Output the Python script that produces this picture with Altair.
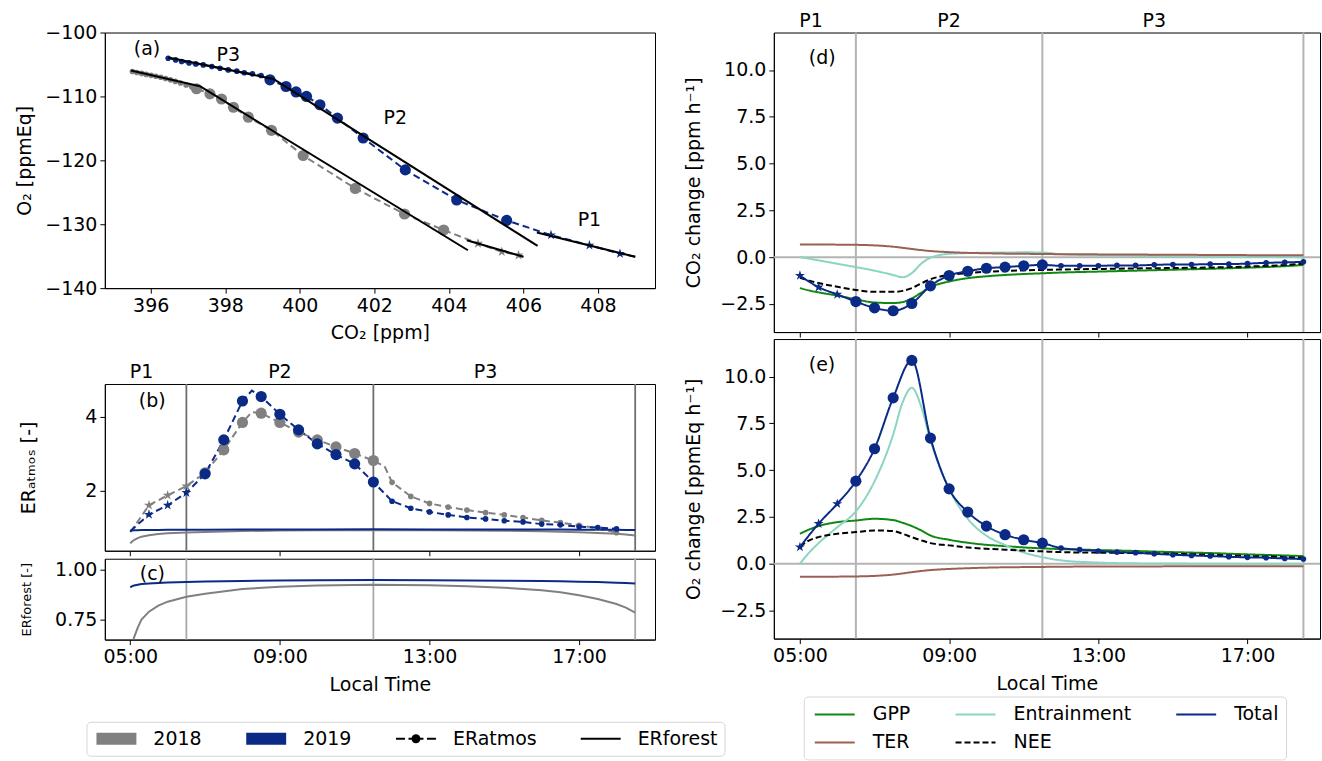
import altair as alt
import pandas as pd

GREY = "#808080"
NAVY = "#0b2a86"
GREEN = "#118811"
TEAL = "#8ad5c1"
BROWN = "#9c5f55"
FONT = "DejaVu Sans"
FS = 19

# ---------------- data ----------------
# half-hourly observation times (h) of the ERatmos markers in (a) and (b)
t_obs = [5.5, 6.0, 6.5, 7.0, 7.5, 8.0, 8.5, 9.0, 9.5, 10.0, 10.5, 11.0, 11.5,
         12.0, 12.5, 13.0, 13.5, 14.0, 14.5, 15.0, 15.5, 16.0, 16.5, 17.0, 17.5, 18.0]
marker_obs = ["star"] * 3 + ["big"] * 10 + ["small"] * 13

co2_2018 = [405.87, 405.42, 404.78, 403.86, 402.81, 401.49, 400.09, 399.24, 398.62, 398.22, 397.90, 397.59, 397.23,
            397.10, 396.95, 396.80, 396.66, 396.53, 396.40, 396.27, 396.14, 396.01, 395.88, 395.76, 395.63, 395.51]
o2_2018 = [-134.85, -134.3, -133.0, -130.9, -128.4, -124.4, -119.25, -115.3, -113.25, -111.7, -110.4, -109.6, -108.8,
           -108.5, -108.2, -107.9, -107.65, -107.4, -107.2, -107.0, -106.85, -106.7, -106.55, -106.4, -106.25, -106.1]
co2_2019 = [408.59, 407.77, 406.74, 405.55, 404.21, 402.83, 401.70, 401.01, 400.54, 400.18, 399.90, 399.63, 399.20,
            398.96, 398.73, 398.51, 398.31, 398.08, 397.86, 397.64, 397.41, 397.21, 397.03, 396.83, 396.67, 396.47]
o2_2019 = [-134.6, -133.3, -131.7, -129.4, -126.2, -121.5, -116.5, -113.4, -111.3, -110.0, -109.3, -108.45, -107.4,
           -106.73, -106.47, -106.3, -106.05, -105.85, -105.59, -105.32, -105.07, -104.91, -104.76, -104.54, -104.28, -104.02]
start_co2 = [406.0, 409.0]      # 05:00 start of each curve in (a)
start_o2 = [-135.1, -135.1]

# straight ERforest fits drawn in (a)
seg_name = ["18P3", "18P3", "18P2", "18P2", "18P1", "18P1", "19P3", "19P3", "19P2", "19P2", "19P1", "19P1"]
seg_co2 = [395.47, 397.32, 397.32, 404.51, 404.48, 406.0, 396.47, 399.29, 399.29, 406.38, 406.36, 409.0]
seg_o2 = [-105.95, -108.4, -108.4, -134.07, -132.5, -135.1, -103.9, -107.26, -107.26, -133.4, -131.3, -135.1]

# (b) ERatmos
eratmos_2018 = [1.60, 1.87, 2.12, 2.48, 3.10, 3.84, 4.09, 3.84, 3.58, 3.37, 3.18, 3.00, 2.81,
                2.22, 1.84, 1.65, 1.55, 1.47, 1.40, 1.34, 1.27, 1.19, 1.13, 1.06, 0.98, 0.86]
eratmos_2019 = [1.35, 1.60, 1.94, 2.45, 3.37, 4.42, 4.54, 4.06, 3.64, 3.26, 2.97, 2.72, 2.23,
                1.71, 1.52, 1.42, 1.34, 1.27, 1.23, 1.18, 1.15, 1.09, 1.07, 1.02, 1.00, 0.96]
extra_t_2018 = [5.0, 8.25, 11.8]
extra_er_2018 = [0.87, 4.12, 2.65]
extra_t_2019 = [5.0, 8.25]
extra_er_2019 = [0.90, 4.70]

# (b)/(c) ERforest
t_forest = [5.0, 5.05, 5.1, 5.2, 5.3, 5.5, 5.75, 6.0, 6.5, 7.0, 8.0, 9.0, 10.0, 11.5,
            13.0, 14.0, 15.0, 16.0, 16.5, 17.0, 17.5, 18.0, 18.25, 18.5]
forest_2018 = [0.57, 0.62, 0.66, 0.71, 0.75, 0.79, 0.82, 0.84, 0.865, 0.88, 0.903, 0.915, 0.921, 0.925,
               0.922, 0.917, 0.91, 0.897, 0.887, 0.872, 0.853, 0.828, 0.81, 0.785]
forest_2019 = [0.912, 0.918, 0.921, 0.925, 0.928, 0.931, 0.934, 0.936, 0.939, 0.941, 0.944, 0.946, 0.947, 0.948,
               0.947, 0.946, 0.945, 0.943, 0.942, 0.940, 0.938, 0.935, 0.933, 0.931]

# (d)/(e) total change with markers
t_total = [5.0, 5.5, 6.0, 6.5, 7.0, 7.5, 8.0, 8.5, 9.0, 9.5, 10.0, 10.5, 11.0, 11.5,
           12.0, 12.5, 13.0, 13.5, 14.0, 14.5, 15.0, 15.5, 16.0, 16.5, 17.0, 17.5, 18.0, 18.5]
marker_total = ["star"] * 3 + ["big"] * 11 + ["small"] * 14
total_co2 = [-0.98, -1.60, -1.99, -2.37, -2.71, -2.86, -2.47, -1.53, -0.98, -0.75, -0.59, -0.53, -0.46, -0.41,
             -0.46, -0.46, -0.46, -0.44, -0.44, -0.41, -0.39, -0.39, -0.37, -0.37, -0.34, -0.30, -0.28, -0.25]
total_o2 = [0.89, 2.14, 3.20, 4.41, 6.14, 8.86, 10.86, 6.71, 4.00, 2.76, 2.01, 1.55, 1.28, 1.10,
            0.84, 0.75, 0.68, 0.62, 0.59, 0.53, 0.48, 0.44, 0.41, 0.37, 0.34, 0.32, 0.28, 0.25]

# (d)/(e) budget components
t_comp = [5.0, 5.25, 5.5, 6.0, 6.5, 7.0, 7.5, 7.75, 8.0, 8.25, 8.5, 9.0, 9.5, 10.0, 10.5, 11.0, 11.5,
          12.0, 13.0, 14.0, 15.0, 16.0, 17.0, 18.0, 18.5]
gpp_co2 = [-1.65, -1.78, -1.88, -2.05, -2.25, -2.42, -2.45, -2.40, -2.20, -1.90, -1.60, -1.30, -1.12, -1.02, -0.95,
           -0.90, -0.86, -0.82, -0.77, -0.72, -0.67, -0.62, -0.56, -0.48, -0.42]
ter_co2 = [0.68, 0.68, 0.68, 0.67, 0.66, 0.63, 0.56, 0.50, 0.44, 0.38, 0.33, 0.27, 0.23, 0.21, 0.19,
           0.18, 0.17, 0.16, 0.15, 0.14, 0.13, 0.12, 0.11, 0.10, 0.10]
ent_co2 = [0.0, -0.08, -0.17, -0.35, -0.53, -0.72, -0.95, -1.07, -0.85, -0.35, -0.03, 0.18, 0.22, 0.24, 0.25,
           0.26, 0.25, 0.16, 0.10, 0.07, 0.05, 0.04, 0.02, 0.01, 0.0]
nee_co2 = [-1.10, -1.25, -1.38, -1.58, -1.75, -1.85, -1.85, -1.80, -1.65, -1.40, -1.18, -0.95, -0.85, -0.78, -0.74,
           -0.70, -0.68, -0.66, -0.63, -0.60, -0.58, -0.55, -0.50, -0.42, -0.35]
gpp_o2 = [1.60, 1.83, 2.01, 2.22, 2.31, 2.40, 2.33, 2.19, 2.01, 1.78, 1.51, 1.28, 1.12, 1.01, 0.94,
          0.87, 0.82, 0.78, 0.73, 0.68, 0.62, 0.57, 0.50, 0.44, 0.41]
ter_o2 = [-0.70, -0.70, -0.70, -0.69, -0.68, -0.65, -0.58, -0.52, -0.45, -0.39, -0.34, -0.28, -0.24, -0.21, -0.19,
          -0.18, -0.17, -0.16, -0.15, -0.15, -0.14, -0.14, -0.14, -0.14, -0.14]
ent_o2 = [0.0, 0.6, 1.1, 1.95, 2.8, 4.4, 6.9, 8.6, 9.4, 8.4, 6.6, 4.0, 2.4, 1.5, 1.0,
          0.6, 0.35, 0.18, 0.06, 0.02, 0.01, 0.0, 0.0, 0.0, 0.0]
nee_o2 = [0.92, 1.25, 1.42, 1.60, 1.69, 1.78, 1.75, 1.60, 1.42, 1.25, 1.10, 0.98, 0.87, 0.80, 0.75,
          0.70, 0.66, 0.62, 0.59, 0.57, 0.53, 0.48, 0.41, 0.36, 0.32]

# period boundaries and labels
period_bounds = [6.5, 11.5, 18.5]
period_names = ["P1", "P2", "P3"]
period_label_t = [5.3, 9.0, 14.5]
a_label_co2 = [398.08, 402.56, 407.77]
a_label_o2 = [-103.47, -113.3, -129.3]
a_label_text = ["P3", "P2", "P1"]

YEARS = ["2018", "2019"]
LEFT_KEYS = ["2018", "2019", "ERatmos", "ERforest"]
RIGHT_KEYS = ["GPP", "TER", "Entrainment", "NEE", "Total"]   # column-major legend order
STAR = ("M0,-1L0.2245,-0.309L0.9511,-0.309L0.3633,0.118L0.5878,0.809L0,0.382L-0.5878,0.809"
        "L-0.3633,0.118L-0.9511,-0.309L-0.2245,-0.309Z")
PATCH = "M-0.7,-0.6H3.3V0.6H-0.7Z"
THIN = "M-0.7,-0.09H3.3V0.09H-0.7Z"
DASHDOT = ("M-0.7,-0.09H0.2V0.09H-0.7Z M0.55,-0.09H2.05V0.09H0.55Z M2.4,-0.09H3.3V0.09H2.4Z "
           "M0.85,0A0.45,0.45 0 1,1 1.75,0A0.45,0.45 0 1,1 0.85,0Z")
LINE = "M-0.7,0H3.3"
TIME_LABEL = "(datum.value < 10 ? '0' : '') + datum.value + ':00'"

# ---------------- frames ----------------
rows = []
for yr, cs, os_, ers in zip(YEARS, [co2_2018, co2_2019], [o2_2018, o2_2019], [eratmos_2018, eratmos_2019]):
    for t, m, c, o, e in zip(t_obs, marker_obs, cs, os_, ers):
        rows.append({"t": t, "marker": m, "co2": c, "o2": o, "v": e, "year": yr, "kind": "ERatmos"})
df_obs = pd.DataFrame(rows)
df_a_line = pd.concat([df_obs, pd.DataFrame({"t": [5.0, 5.0], "co2": start_co2, "o2": start_o2,
                                             "year": YEARS, "kind": ["ERatmos", "ERatmos"]})], ignore_index=True)
df_seg = pd.DataFrame({"seg": seg_name, "co2": seg_co2, "o2": seg_o2})
df_a_text = pd.DataFrame({"co2": a_label_co2, "o2": a_label_o2, "label": a_label_text})

rows = []
for yr, ts, vs in [("2018", t_obs + extra_t_2018, eratmos_2018 + extra_er_2018),
                   ("2019", t_obs + extra_t_2019, eratmos_2019 + extra_er_2019)]:
    for t, v in zip(ts, vs):
        rows.append({"t": t, "v": v, "year": yr, "kind": "ERatmos"})
df_b_atm = pd.DataFrame(rows)
rows = []
for yr, vs in [("2018", forest_2018), ("2019", forest_2019)]:
    for t, v in zip(t_forest, vs):
        rows.append({"t": t, "v": v, "year": yr, "kind": "ERforest"})
df_forest = pd.DataFrame(rows)

df_vl = pd.DataFrame({"t": period_bounds})
df_pl = pd.DataFrame({"t": period_label_t, "label": period_names})


def comp_frame(vals):
    r = []
    for name, vs in zip(["GPP", "Entrainment", "TER", "NEE"], vals):
        for t, v in zip(t_comp, vs):
            r.append({"t": t, "v": v, "component": name})
    return pd.DataFrame(r)


df_d_comp = comp_frame([gpp_co2, ent_co2, ter_co2, nee_co2])
df_e_comp = comp_frame([gpp_o2, ent_o2, ter_o2, nee_o2])
df_d_tot = pd.DataFrame({"t": t_total, "v": total_co2, "marker": marker_total, "component": "Total"})
df_e_tot = pd.DataFrame({"t": t_total, "v": total_o2, "marker": marker_total, "component": "Total"})
df_zero = pd.DataFrame({"v": [0.0]})

# ---------------- scales & legends ----------------
color_year = alt.Scale(domain=YEARS, range=[GREY, NAVY])
fill_left = alt.Scale(domain=LEFT_KEYS, range=[GREY, NAVY, "black", "black"])
shape_left = alt.Scale(domain=LEFT_KEYS, range=[PATCH, PATCH, DASHDOT, THIN])
stroke_right = alt.Scale(domain=RIGHT_KEYS, range=[GREEN, BROWN, TEAL, "black", NAVY])
dash_right = alt.Scale(domain=RIGHT_KEYS, range=[[1, 0], [1, 0], [1, 0], [6, 3], [1, 0]])

leg_left = alt.Legend(title=None, orient="none", legendX=-18.4, legendY=690.3, direction="horizontal",
                      symbolSize=400, symbolOpacity=1, symbolStrokeWidth=0, symbolFillColor="black",
                      symbolStrokeColor="black", labelFontSize=FS, labelFont=FONT, labelColor="black",
                      labelOffset=40, columnPadding=41, padding=7, strokeColor="#d6d6d6", cornerRadius=4)
leg_right = alt.Legend(title=None, orient="none", legendX=700, legendY=665, columns=3,
                       symbolType=LINE, symbolSize=400, symbolStrokeWidth=2, symbolOpacity=1,
                       symbolStrokeColor="black", labelFontSize=FS, labelFont=FONT, labelColor="black",
                       labelOffset=40, columnPadding=41, rowPadding=7, padding=7,
                       strokeColor="#d6d6d6", cornerRadius=4)

c_year = alt.Color("year:N", scale=color_year, legend=None)
s_comp = alt.Stroke("component:N", scale=stroke_right, legend=leg_right)
d_comp = alt.StrokeDash("component:N", scale=dash_right, legend=leg_right)


def letter(txt, x, y):
    return alt.Chart(pd.DataFrame({"label": [txt]})).mark_text(
        align="left", baseline="middle", fontSize=FS, font=FONT, color="black"
    ).encode(x=alt.value(x), y=alt.value(y), text="label:N")


def time_x(domain, labels, title):
    return alt.X("t:Q", title=title, scale=alt.Scale(domain=domain, nice=False, zero=False),
                 axis=alt.Axis(values=[5, 9, 13, 17], labels=labels, labelExpr=TIME_LABEL, titlePadding=9))


def markers(data, x, y, color):
    out = []
    for m, shp, size in [("star", STAR, 110), ("big", "circle", 125), ("small", "circle", 32)]:
        out.append(alt.Chart(data).transform_filter(alt.datum.marker == m).mark_point(
            filled=True, opacity=1, shape=shp, size=size).encode(x=x, y=y, color=color))
    return out


# ---------------- panel (a) ----------------
xa = alt.X("co2:Q", title="CO₂ [ppm]", scale=alt.Scale(domain=[394.77, 409.53], nice=False, zero=False),
           axis=alt.Axis(values=[396, 398, 400, 402, 404, 406, 408], format="d", titlePadding=8))
ya = alt.Y("o2:Q", title="O₂ [ppmEq]", scale=alt.Scale(domain=[-140, -100], nice=False, zero=False),
           axis=alt.Axis(values=[-140, -130, -120, -110, -100], format="d", titlePadding=10))

a_line = alt.Chart(df_a_line).mark_line(strokeWidth=2, strokeDash=[7, 4]).encode(
    x=xa, y=ya, color=c_year, detail="year:N", order="t:Q")
a_seg = alt.Chart(df_seg).mark_line(color="black", strokeWidth=2).encode(x=xa, y=ya, detail="seg:N")
a_text = alt.Chart(df_a_text).mark_text(fontSize=FS, font=FONT, color="black").encode(x=xa, y=ya, text="label:N")
# legend carrier (draws nothing): year patches and ERatmos/ERforest line styles
a_key = alt.Chart(df_a_line).transform_filter("false").mark_point(filled=True, opacity=1).encode(
    x=xa, y=ya, fill=alt.Fill("year:N", scale=fill_left, legend=leg_left),
    shape=alt.Shape("kind:N", scale=shape_left, legend=leg_left))
panel_a = alt.layer(a_line, *markers(df_obs, xa, ya, c_year), a_seg, a_text, a_key,
                    letter("(a)", 29, 17)).properties(width=551, height=256)

# ---------------- panel (b) ----------------
xb = time_x([4.32, 19.03], False, None)
yb = alt.Y("v:Q", title="ERₐₜₘₒₛ [-]", scale=alt.Scale(domain=[0.37, 4.88], nice=False, zero=False),
           axis=alt.Axis(values=[2, 4], format="d", titlePadding=46))
b_vl = alt.Chart(df_vl).mark_rule(color="#6e6e6e", strokeWidth=1.8).encode(x=xb)
b_atm = alt.Chart(df_b_atm).mark_line(strokeWidth=2, strokeDash=[7, 4]).encode(
    x=xb, y=yb, color=c_year, detail="year:N", order="t:Q")
b_for = alt.Chart(df_forest).mark_line(strokeWidth=2).encode(
    x=xb, y=yb, color=c_year, detail="year:N", order="t:Q")
b_pl = alt.Chart(df_pl).mark_text(fontSize=FS, font=FONT, color="black").encode(
    x=xb, y=alt.value(-12), text="label:N")
panel_b = alt.layer(b_vl, b_atm, b_for, *markers(df_obs, xb, yb, c_year), b_pl,
                    letter("(b)", 34, 17.5)).properties(width=551, height=167)

# ---------------- panel (c) ----------------
xc = time_x([4.32, 19.03], True, "Local Time")
yc = alt.Y("v:Q", title="ERforest [-]", scale=alt.Scale(domain=[0.65, 1.055], nice=False, zero=False),
           axis=alt.Axis(values=[0.75, 1.0], format=".2f", titleFontSize=13, titlePadding=21))
c_vl = alt.Chart(df_vl).mark_rule(color="#a8a8a8", strokeWidth=1.8).encode(x=xc)
c_line = alt.Chart(df_forest).mark_line(strokeWidth=2, clip=True).encode(
    x=xc, y=yc, color=c_year, detail="year:N", order="t:Q")
panel_c = alt.layer(c_vl, c_line, letter("(c)", 35, 15)).properties(width=551, height=81)

# ---------------- panels (d) and (e) ----------------
Y_RIGHT = [-2.5, 0, 2.5, 5, 7.5, 10]


def right_panel(comp, tot, title, show_x, letter_txt, with_periods):
    x = time_x([4.30, 18.945], show_x, "Local Time" if show_x else None)
    y = alt.Y("v:Q", title=title, scale=alt.Scale(domain=[-4, 12], nice=False, zero=False),
              axis=alt.Axis(values=Y_RIGHT, format=".1f", titlePadding=16))
    layers = [
        alt.Chart(df_vl).mark_rule(color="#b4b4b4", strokeWidth=2).encode(x=x),
        alt.Chart(df_zero).mark_rule(color="#b4b4b4", strokeWidth=2).encode(y=y),
        alt.Chart(comp).mark_line(strokeWidth=2, interpolate="monotone").encode(
            x=x, y=y, stroke=s_comp, strokeDash=d_comp, detail="component:N", order="t:Q"),
        alt.Chart(tot).mark_line(strokeWidth=2, interpolate="monotone").encode(
            x=x, y=y, stroke=s_comp, strokeDash=d_comp, order="t:Q"),
    ]
    layers += markers(tot, x, y, alt.value(NAVY))
    if with_periods:
        layers.append(alt.Chart(df_pl).mark_text(fontSize=FS, font=FONT, color="black").encode(
            x=x, y=alt.value(-12), text="label:N"))
    layers.append(letter(letter_txt, 35, 26))
    return alt.layer(*layers).properties(width=547, height=300)


panel_d = right_panel(df_d_comp, df_d_tot, "CO₂ change [ppm h⁻¹]", False, "(d)", True)
panel_e = right_panel(df_e_comp, df_e_tot, "O₂ change [ppmEq h⁻¹]", True, "(e)", False)

left = alt.VConcatChart(vconcat=[panel_a, alt.VConcatChart(vconcat=[panel_b, panel_c], spacing=8, bounds="flush")],
                        spacing=96, bounds="flush")
right = alt.VConcatChart(vconcat=[panel_d, panel_e], spacing=7, bounds="flush")

chart = alt.HConcatChart(hconcat=[left, right], spacing=28).properties(
    padding={"left": 15, "top": 10, "right": 0, "bottom": 0}
).configure(
    font=FONT
).configure_view(
    stroke="black", strokeWidth=1
).configure_axis(
    grid=False, domainColor="black", tickColor="black", tickSize=5, labelFontSize=FS, titleFontSize=FS,
    labelColor="black", titleColor="black", titleFontWeight="normal", labelFont=FONT, titleFont=FONT,
    labelPadding=3
)

chart.save("out.html", embed_options={"renderer": "svg", "actions": False})
